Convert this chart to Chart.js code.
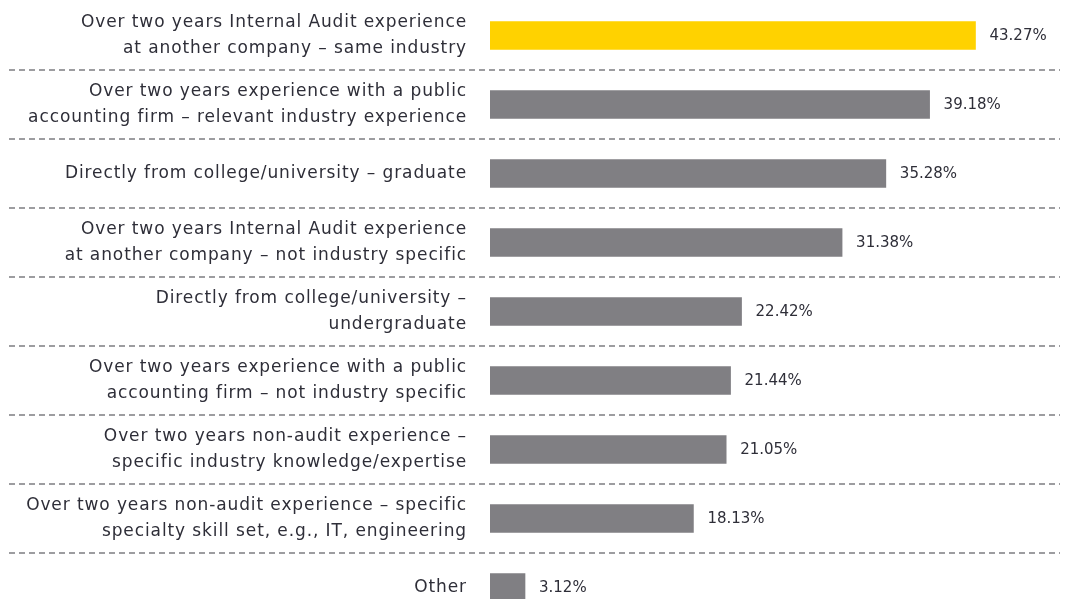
<!DOCTYPE html>
<html>
<head>
<meta charset="utf-8">
<script src="https://cdn.jsdelivr.net/npm/chart.js@4/dist/chart.umd.min.js"></script>
<style>
	html, body { margin: 0; padding: 0; background: #fff; overflow: hidden; }
	#wrap { width: 1068px; height: 622px; position: relative; }
</style>
</head>
<body>
<div id="wrap"><canvas id="hireChart"></canvas></div>
<script>
// 資料
const labels = [
	['Over two years Internal Audit experience', 'at another company – same industry'],
	['Over two years experience with a public', 'accounting firm – relevant industry experience'],
	'Directly from college/university – graduate',
	['Over two years Internal Audit experience', 'at another company – not industry specific'],
	['Directly from college/university –', 'undergraduate'],
	['Over two years experience with a public', 'accounting firm – not industry specific'],
	['Over two years non-audit experience –', 'specific industry knowledge/expertise'],
	['Over two years non-audit experience – specific', 'specialty skill set, e.g., IT, engineering'],
	'Other'
];
const values = [43.27, 39.18, 35.28, 31.38, 22.42, 21.44, 21.05, 18.13, 3.12];
const barColors = ['#ffd200', '#807f83', '#807f83', '#807f83', '#807f83', '#807f83', '#807f83', '#807f83', '#807f83'];

const textColor = '#2e2e38';

// 分隔虛線 + 數值標籤
const rowPlugin = {
	id: 'rowPlugin',
	beforeDraw(chart) {
		// 原圖字體比較寬，加一點字距
		chart.ctx.letterSpacing = '0.9px';
	},
	beforeDatasetsDraw(chart) {
		const ctx = chart.ctx;
		const y = chart.scales.y;
		ctx.save();
		ctx.strokeStyle = '#9d9da0';
		ctx.lineWidth = 2;
		ctx.setLineDash([6, 4]);
		for (let i = 0; i < labels.length - 1; i++) {
			let py = Math.round((y.getPixelForTick(i) + y.getPixelForTick(i + 1)) / 2);
			ctx.beginPath();
			ctx.moveTo(9, py);
			ctx.lineTo(1060, py);
			ctx.stroke();
		}
		ctx.restore();
	},
	afterDatasetsDraw(chart) {
		const ctx = chart.ctx;
		const meta = chart.getDatasetMeta(0);
		ctx.save();
		ctx.letterSpacing = '0px';
		ctx.fillStyle = textColor;
		ctx.font = '15px "DejaVu Sans"';
		ctx.textBaseline = 'middle';
		ctx.textAlign = 'left';
		meta.data.forEach(function(bar, i) {
			ctx.fillText(values[i].toFixed(2) + '%', bar.x + 14, bar.y + 1);
		});
		ctx.restore();
	}
};

new Chart(document.getElementById('hireChart'), {
	type: 'bar',
	data: {
		labels: labels,
		datasets: [{
			data: values,
			backgroundColor: barColors,
			barThickness: 28
		}]
	},
	options: {
		indexAxis: 'y',
		responsive: true,
		maintainAspectRatio: false,
		animation: false,
		layout: {
			padding: { left: 0, right: 17, top: 1, bottom: 0 }
		},
		scales: {
			x: {
				min: 0,
				max: 50,
				display: false
			},
			y: {
				border: { display: false },
				grid: { display: false, drawTicks: false },
				ticks: {
					color: textColor,
					padding: 23,
					font: { family: '"DejaVu Sans"', size: 17, lineHeight: 1.5 }
				},
				afterFit(scale) {
					scale.width = 490;
					// 不要讓標籤高度撐開上下邊距
					scale.paddingTop = 0;
					scale.paddingBottom = 0;
				}
			}
		},
		plugins: {
			legend: { display: false },
			tooltip: { enabled: false }
		}
	},
	plugins: [rowPlugin]
});
</script>
</body>
</html>
